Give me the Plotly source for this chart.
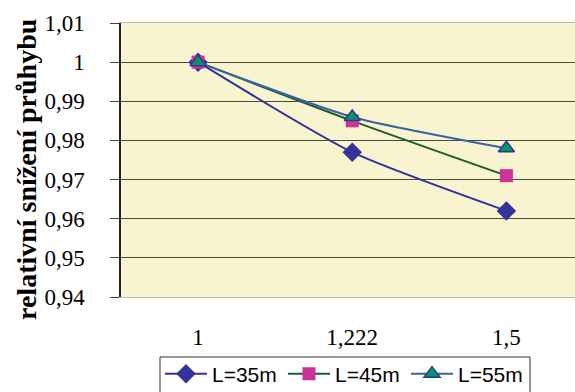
import plotly.graph_objects as go

# Ratio categories on the x axis
categories = ["1", "1,222", "1,5"]

# Relative deflection reduction for each span length
l35 = [1.0, 0.977, 0.962]
l45 = [1.0, 0.985, 0.971]
l55 = [1.0, 0.986, 0.978]

y_ticks = [0.94, 0.95, 0.96, 0.97, 0.98, 0.99, 1.0, 1.01]
y_tick_text = ["0,94", "0,95", "0,96", "0,97", "0,98", "0,99", "1", "1,01"]

y_title = "relativní snížení průhybu"

x_pos = list(range(len(categories)))

W, H = 575, 392
ML, MT, MB = 121, 23, 95
plot_w, plot_h = W - ML, H - MT - MB


def px_to_paper_x(px):
    return (px - ML) / plot_w


def px_to_paper_y(py):
    return (H - MB - py) / plot_h


fig = go.Figure()

fig.add_trace(go.Scatter(
    x=x_pos, y=l35, name="L=35m", mode="lines+markers",
    line=dict(color="#333399", width=2, shape="spline", smoothing=0.6),
    marker=dict(symbol="diamond", size=15, color="#333399"),
))
fig.add_trace(go.Scatter(
    x=x_pos, y=l45, name="L=45m", mode="lines+markers",
    line=dict(color="#1E5E2E", width=2, shape="spline", smoothing=0.6),
    marker=dict(symbol="square", size=13, color="#CC3399"),
))
fig.add_trace(go.Scatter(
    x=x_pos, y=l55, name="L=55m", mode="lines+markers",
    line=dict(color="#3A62A8", width=2, shape="spline", smoothing=0.6),
    marker=dict(symbol="triangle-up", size=14, color="#009966",
                line=dict(color="#333399", width=1.5)),
))

# Legend frame, running off the bottom edge of the page
fig.add_shape(
    type="rect", xref="paper", yref="paper",
    x0=px_to_paper_x(160), x1=px_to_paper_x(530),
    y0=px_to_paper_y(400), y1=px_to_paper_y(357),
    line=dict(color="#333333", width=1), fillcolor="white", layer="below",
)

# Vertical axis title, placed slightly below the plot's vertical centre
fig.add_annotation(
    text=f"<b>{y_title}</b>", textangle=-90,
    xref="paper", yref="paper",
    x=px_to_paper_x(26), y=px_to_paper_y(170),
    xanchor="center", yanchor="middle", showarrow=False,
    font=dict(family="Liberation Serif, Times New Roman, serif", size=28, color="black"),
)

fig.update_layout(
    width=W, height=H,
    margin=dict(l=ML, r=0, t=MT, b=MB),
    paper_bgcolor="white",
    plot_bgcolor="#F8F4D0",
    font=dict(family="Liberation Serif, Times New Roman, serif", size=23, color="black"),
    showlegend=True,
    legend=dict(
        orientation="h",
        x=160 / W, xanchor="left", xref="container",
        y=(H - 374) / H, yanchor="middle", yref="container",
        font=dict(family="Liberation Sans, Arial, sans-serif", size=21, color="black"),
        borderwidth=0,
        bgcolor="rgba(0,0,0,0)",
        entrywidth=66, entrywidthmode="pixels",
        itemwidth=42,
    ),
)

fig.update_xaxes(
    range=[-0.5, 2.445],
    tickmode="array", tickvals=x_pos, ticktext=categories,
    showgrid=False, zeroline=False,
    showline=True, linecolor="#BBBBBB", linewidth=1, mirror=True,
    ticks="", ticklabelstandoff=19,
    automargin=False,
)

fig.update_yaxes(
    range=[0.94, 1.01],
    tickmode="array", tickvals=y_ticks, ticktext=y_tick_text,
    showgrid=True, gridcolor="#4A4A3A", gridwidth=1.2,
    zeroline=False,
    showline=True, linecolor="#222222", linewidth=1.5,
    ticks="outside", ticklen=9, tickcolor="#444444", tickwidth=1.2,
    ticklabelstandoff=21,
    automargin=False,
)

fig.write_html("out.html")
